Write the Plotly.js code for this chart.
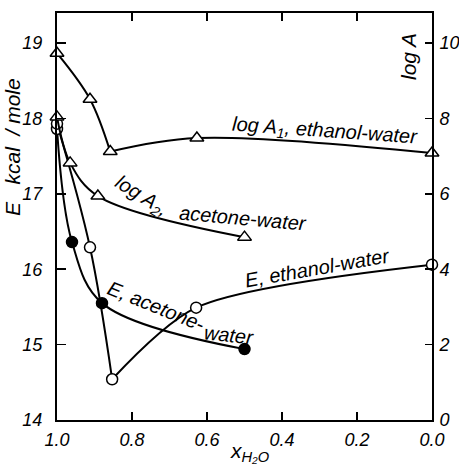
<!DOCTYPE html>
<html>
<head>
<meta charset="utf-8">
<script src="https://cdn.plot.ly/plotly-3.0.1.min.js"></script>
<style>html,body{margin:0;padding:0;background:#fff}#chart{width:459px;height:464px}</style>
</head>
<body>
<div id="chart"></div>
<script>
// ---- data ----
const xTickVals = [1.0, 0.8, 0.6, 0.4, 0.2, 0.0];
const xTickText = ["1.0", "0.8", "0.6", "0.4", "0.2", "0.0"];
const eTickVals = [14, 15, 16, 17, 18, 19];
const logATickVals = [0, 2, 4, 6, 8, 10];

// log A1, ethanol-water (triangles, right axis)
const xLogA1 = [1.0, 0.912, 0.858, 0.627, 0.0];
const logA1 = [9.73, 8.51, 7.12, 7.48, 7.08];
// log A2, acetone-water (triangles, right axis)
const xLogA2 = [1.0, 0.965, 0.891, 0.5];
const logA2 = [8.04, 6.82, 5.94, 4.85];
// E, ethanol-water (open circles, left axis)
const xEEth = [1.0, 0.912, 0.853, 0.629, 0.0];
const eEth = [17.93, 16.29, 14.54, 15.49, 16.06];
// E, acetone-water (filled circles, left axis)
const xEAce = [1.0, 0.96, 0.88, 0.5];
const eAce = [17.86, 16.36, 15.55, 14.94];

// ---- layout geometry ----
const W = 459, H = 464, L = 57, R = 27, T = 13, B = 44;
const PW = W - L - R, PH = H - T - B;
const px = x => (x - L) / PW;
const py = y => (H - B - y) / PH;
const FONT = "Liberation Sans, Arial, sans-serif";

function lineTrace(x, y, axis, smooth) {
  return {x: x, y: y, yaxis: axis, mode: "lines",
          line: {color: "black", width: 2, shape: "spline", smoothing: smooth || 1},
          hoverinfo: "skip", showlegend: false, cliponaxis: false};
}
function markTrace(x, y, axis, symbol, fill, size) {
  return {x: x, y: y, yaxis: axis, mode: "markers", showlegend: false, cliponaxis: false,
          marker: {symbol: symbol, size: size, color: fill, line: {color: "black", width: 1.5}}};
}

const traces = [
  lineTrace(xLogA1.slice(0, 3), logA1.slice(0, 3), "y2"),
  lineTrace(xLogA1.slice(2), logA1.slice(2), "y2"),
  lineTrace(xLogA2, logA2, "y2"),
  lineTrace(xEEth.slice(0, 3), eEth.slice(0, 3), "y"),
  lineTrace(xEEth.slice(2), eEth.slice(2), "y", 0.8),
  lineTrace(xEAce, eAce, "y"),
  markTrace(xLogA1, logA1, "y2", "triangle-up", "white", 12),
  markTrace(xLogA2, logA2, "y2", "triangle-up", "white", 12),
  markTrace(xEAce, eAce, "y", "circle", xEAce.map((v, i) => i === 0 ? "white" : "black"), 11),
  markTrace(xEEth, eEth, "y", "circle", "white", 11)
];

const tickFont = {family: FONT, size: 18, color: "black", style: "italic"};
const labFont = {family: FONT, size: 20, color: "black", style: "italic"};

function ann(text, x, y, angle, size) {
  return {text: text, xref: "paper", yref: "paper", x: px(x), y: py(y),
          xanchor: "center", yanchor: "middle", showarrow: false, textangle: angle || 0,
          font: Object.assign({}, labFont, size ? {size: size} : {})};
}

const layout = {
  width: W, height: H,
  margin: {l: L, r: R, t: T, b: B, pad: 0},
  paper_bgcolor: "white", plot_bgcolor: "white",
  showlegend: false,
  xaxis: {range: [1.0, 0.0], tickvals: xTickVals, ticktext: xTickText,
          ticks: "inside", ticklen: 8, tickwidth: 1.5, tickcolor: "black",
          showline: true, linecolor: "black", linewidth: 2, mirror: "ticks",
          showgrid: false, zeroline: false, tickfont: tickFont, ticklabelstandoff: 2},
  yaxis: {range: [14, 14 + PH / 75.4], tickvals: eTickVals,
          ticks: "inside", ticklen: 9, tickwidth: 1.5, tickcolor: "black",
          showline: true, linecolor: "black", linewidth: 2, mirror: true,
          showgrid: false, zeroline: false, tickfont: tickFont, ticklabelstandoff: 9},
  yaxis2: {range: [0, 2 * PH / 75.4], tickvals: logATickVals, overlaying: "y", side: "right",
           ticks: "inside", ticklen: 7, tickwidth: 1.5, tickcolor: "black",
           showline: true, linecolor: "black", linewidth: 2,
           showgrid: false, zeroline: false, tickfont: tickFont, ticklabelstandoff: 2},
  annotations: [
    ann("E   kcal  / mole", 13, 147, -90, 21),
    ann("log A", 408, 57, -90, 21),
    ann("x<sub>H₂O</sub>", 250, 452, 0, 21),
    ann("log A<sub>1</sub>, ethanol-water", 325, 131, 4, 20),
    ann("log A<sub>2</sub>,", 141, 197, 32, 20),
    ann("acetone-water", 243, 218, 5, 20),
    ann("E, ethanol-water", 317, 268, -10, 20),
    ann("E, acetone-", 156, 306, 22, 20),
    ann("water", 229, 335, 6, 20)
  ]
};

Plotly.newPlot("chart", traces, layout, {staticPlot: true, displayModeBar: false});
</script>
</body>
</html>
